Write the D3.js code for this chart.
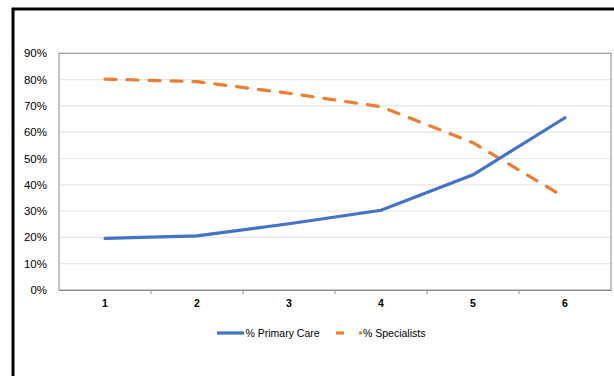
<!DOCTYPE html>
<html><head><meta charset="utf-8">
<script src="https://cdn.jsdelivr.net/npm/d3@7"></script>
<style>body{margin:0;background:#fff}svg{display:block}</style>
</head><body>
<script>
const categories = [1, 2, 3, 4, 5, 6];
const primaryCare = [0.196, 0.206, 0.252, 0.303, 0.438, 0.655];
const specialists = [0.802, 0.792, 0.748, 0.697, 0.56, 0.352];
const yTicks = [0, 0.1, 0.2, 0.3, 0.4, 0.5, 0.6, 0.7, 0.8, 0.9];
const seriesNames = ["% Primary Care", "% Specialists"];

const W = 614, H = 376;
const svg = d3.select("body").append("svg").attr("width", W).attr("height", H);

// outer frame (black, cut at right/bottom)
svg.append("path").attr("d", "M13,376 V9 H614").attr("fill", "none").attr("stroke", "#000").attr("stroke-width", 3);

const m = {l: 59, r: 611, t: 53.3, b: 290};
const x = d3.scaleBand().domain(categories).range([m.l, m.r]);
const y = d3.scaleLinear().domain([0, 0.9]).range([m.b, m.t]);

// gridlines
svg.append("g").selectAll("line").data(yTicks.filter(d => d > 0)).join("line")
  .attr("x1", m.l).attr("x2", m.r).attr("y1", d => y(d)).attr("y2", d => y(d))
  .attr("stroke", "#e6e6e6").attr("stroke-width", 1.2);

// plot border
svg.append("rect").attr("x", m.l).attr("y", m.t).attr("width", m.r - m.l).attr("height", m.b - m.t)
  .attr("fill", "none").attr("stroke", "#8c8c8c").attr("stroke-width", 1);

// y axis labels
svg.append("g").selectAll("text").data(yTicks).join("text")
  .attr("x", 47).attr("y", d => y(d)).attr("dy", "0.35em").attr("text-anchor", "end")
  .attr("font-family", "Liberation Sans, Arial, sans-serif").attr("font-size", 11.5).attr("fill", "#000")
  .text(d3.format(".0%"));

// x axis
const xAxis = d3.axisBottom(x).tickSize(0).tickPadding(10);
const gx = svg.append("g").attr("transform", `translate(0,${m.b})`).call(xAxis);
gx.select(".domain").attr("stroke", "#8c8c8c");
gx.selectAll("text").attr("font-family", "Liberation Sans, Arial, sans-serif").attr("font-size", 10.5)
  .attr("font-weight", "bold").attr("fill", "#000");
// tick marks between categories
svg.append("g").selectAll("line").data(categories.slice(1)).join("line")
  .attr("x1", d => x(d)).attr("x2", d => x(d)).attr("y1", m.b).attr("y2", m.b + 4)
  .attr("stroke", "#8c8c8c");

const line = d3.line().x((d, i) => x(categories[i]) + x.bandwidth() / 2).y(d => y(d));

svg.append("path").datum(specialists).attr("d", line).attr("fill", "none")
  .attr("stroke", "#ED7D31").attr("stroke-width", 3.2).attr("stroke-dasharray", "11,11")
  .attr("stroke-linecap", "round");
svg.append("path").datum(primaryCare).attr("d", line).attr("fill", "none")
  .attr("stroke", "#4472C4").attr("stroke-width", 3.2).attr("stroke-linecap", "round");

// legend
const lg = svg.append("g").attr("font-family", "Liberation Sans, Arial, sans-serif").attr("font-size", 10.5).attr("fill", "#000");
lg.append("line").attr("x1", 217).attr("x2", 244).attr("y1", 333).attr("y2", 333)
  .attr("stroke", "#4472C4").attr("stroke-width", 3.2);
lg.append("text").attr("x", 245.5).attr("y", 333).attr("dy", "0.35em").text(seriesNames[0]);
lg.append("line").attr("x1", 336).attr("x2", 344).attr("y1", 333).attr("y2", 333)
  .attr("stroke", "#ED7D31").attr("stroke-width", 3.2);
lg.append("line").attr("x1", 359).attr("x2", 362).attr("y1", 333).attr("y2", 333)
  .attr("stroke", "#ED7D31").attr("stroke-width", 3.2);
lg.append("text").attr("x", 363).attr("y", 333).attr("dy", "0.35em").text(seriesNames[1]);
</script>
</body></html>
